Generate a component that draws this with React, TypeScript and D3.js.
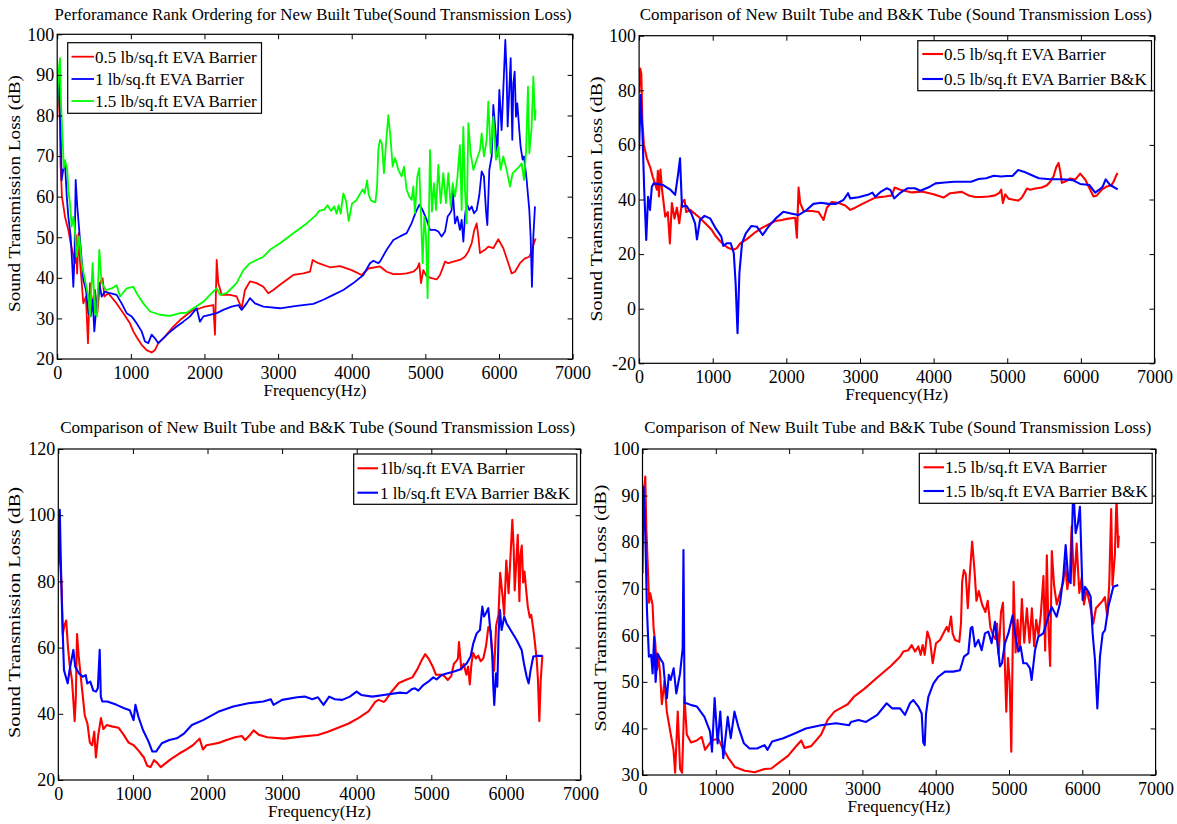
import React, { useRef, useEffect } from 'react';
import * as d3 from 'd3';

type Pt = [number, number];

// x ticks shared by all four panels
const freqTicks = [0, 1000, 2000, 3000, 4000, 5000, 6000, 7000];

// y ticks per panel
const stlTicksRank = [20, 30, 40, 50, 60, 70, 80, 90, 100];
const stlTicks05 = [-20, 0, 20, 40, 60, 80, 100];
const stlTicks10 = [20, 40, 60, 80, 100, 120];
const stlTicks15 = [30, 40, 50, 60, 70, 80, 90, 100];

// New built tube, 0.5 lb/sq.ft  [Hz, dB]
const newTube05: Pt[] = [
  [0, 79], [15, 88], [30, 86], [45, 68], [65, 60], [106, 55], [151, 51.8], [183, 48.5], [242, 43.6], [255, 50.5],
  [270, 41.1], [290, 51], [310, 44], [355, 33.7], [390, 35.4], [418, 23.9], [445, 38.7], [481, 33], [513, 37],
  [545, 31.3], [581, 38.7], [617, 39.9], [640, 35.4], [694, 36.2], [807, 33.7], [898, 31.3], [988, 28.8],
  [1034, 26.8], [1088, 25.1], [1147, 23.5], [1215, 22.2], [1283, 21.6], [1328, 22.2], [1373, 23.9], [1464, 25.5],
  [1577, 28], [1668, 29.6], [1758, 30.9], [1849, 32.1], [1939, 32.5], [2007, 32.9], [2120, 33.3], [2143, 26],
  [2166, 44.4], [2188, 38.7], [2234, 35.8], [2347, 35.8], [2437, 35.4], [2505, 32.5], [2550, 37], [2618, 39.1],
  [2709, 38.7], [2800, 37.8], [2867, 36.2], [2935, 37], [3026, 38.3], [3207, 40.7], [3343, 41.1], [3433, 41.5],
  [3470, 44.4], [3547, 43.6], [3705, 42.6], [3841, 42.9], [3999, 41.9], [4135, 40.7], [4226, 42.3], [4384, 42.8],
  [4475, 41.5], [4565, 40.9], [4656, 40.9], [4746, 41.1], [4837, 41.5], [4891, 42.4], [4918, 43.6], [4941, 38.7],
  [4973, 41.9], [5018, 40.3], [5086, 39.9], [5154, 39.6], [5199, 40.7], [5235, 42.4], [5267, 44], [5312, 43.6],
  [5380, 44], [5470, 44.4], [5538, 45.2], [5584, 46.5], [5629, 48.5], [5665, 51.8], [5697, 53.4], [5720, 50.2],
  [5742, 46.1], [5810, 46.9], [5855, 47.7], [5923, 47.3], [5991, 49.5], [6059, 47.3], [6127, 43.6], [6172, 41.1],
  [6217, 41.5], [6285, 43.6], [6353, 44.8], [6412, 45.2], [6444, 46.5], [6475, 48.5], [6498, 49.7],
];

// New built tube, 1 lb/sq.ft
const newTube10: Pt[] = [
  [0, 85], [10, 88], [20, 90], [28, 84.6], [45, 78], [60, 64], [80, 66.5], [106, 68.2], [130, 60], [151, 55.1],
  [183, 50.2], [205, 43], [219, 37.8], [235, 45], [251, 64.1], [273, 57.5], [310, 49.3], [355, 39.5], [391, 37],
  [423, 31.3], [454, 30.5], [482, 34.6], [504, 26.8], [536, 33.7], [572, 38.7], [604, 35.4], [649, 36.6],
  [717, 36.2], [807, 35.8], [875, 33.7], [943, 31.3], [1011, 30.5], [1079, 28.8], [1147, 26.8], [1192, 24.3],
  [1237, 23.9], [1283, 26], [1328, 25.1], [1373, 23.9], [1419, 24.7], [1509, 26.3], [1622, 28], [1713, 29.2],
  [1804, 30.5], [1894, 32.5], [1939, 29.2], [1985, 30.5], [2075, 30.9], [2166, 31.3], [2256, 32.1], [2369, 32.9],
  [2460, 33.3], [2505, 32.1], [2573, 33.7], [2618, 35], [2686, 33.7], [2800, 32.9], [3026, 32.5], [3252, 33.1],
  [3479, 33.6], [3615, 34.6], [3750, 35.8], [3886, 37], [4022, 38.7], [4158, 40.7], [4248, 43.6], [4294, 44.2],
  [4361, 43.6], [4384, 44], [4475, 46.9], [4565, 49.3], [4656, 50.2], [4746, 51], [4814, 53.5], [4873, 56.3],
  [4918, 58], [4963, 56.7], [5018, 54.3], [5063, 51.8], [5131, 51.8], [5176, 51.4], [5221, 50.2], [5267, 51.4],
  [5303, 55.1], [5335, 55.9], [5357, 56.7], [5371, 61.7], [5403, 53.4], [5434, 55.1], [5470, 51.8], [5493, 54.3],
  [5516, 48.9], [5538, 55.1], [5561, 58.4], [5597, 56.7], [5629, 57.6], [5661, 55.9], [5697, 56.7], [5733, 60.4],
  [5765, 66.2], [5796, 65], [5823, 56.7], [5842, 53], [5869, 66.6], [5901, 69.9], [5923, 82.6], [5959, 74.8],
  [5977, 69.9], [6005, 86.3], [6036, 76.4], [6068, 90.4], [6086, 98.6], [6104, 90.4], [6118, 77.3], [6140, 86.3],
  [6159, 94.1], [6181, 74], [6195, 87.9], [6213, 90.8], [6231, 79.7], [6249, 83], [6276, 76.4], [6294, 72.3],
  [6321, 69.1], [6340, 69.9], [6376, 64.1], [6412, 56.7], [6430, 50.2], [6448, 37.8], [6467, 50.2], [6489, 57.6],
];

// New built tube, 1.5 lb/sq.ft
const newTube15: Pt[] = [
  [0, 82.2], [15, 90], [38, 94.1], [52, 83], [74, 74], [90, 67], [106, 69], [137, 66.6], [151, 61.6], [174, 58.4],
  [196, 52.6], [220, 55], [240, 51.8], [264, 45.2], [300, 50.2], [332, 43.6], [377, 39.5], [423, 35.4], [445, 30.5],
  [481, 43.6], [513, 31.3], [540, 30.5], [572, 46.9], [604, 38.7], [663, 37], [740, 37.4], [807, 38.2], [853, 35.4],
  [943, 37.4], [1034, 37.8], [1079, 36.2], [1170, 33.7], [1260, 31.7], [1396, 30.9], [1532, 30.6], [1668, 31.3],
  [1758, 31.4], [1849, 32.5], [1985, 34.1], [2075, 35.8], [2166, 37.4], [2211, 35.8], [2301, 36.2], [2437, 38.7],
  [2528, 41.9], [2618, 43.6], [2709, 44.4], [2800, 45.2], [2890, 46.9], [3026, 48.5], [3207, 51], [3388, 53.4],
  [3513, 55.4], [3558, 56.5], [3627, 56.8], [3672, 57.9], [3718, 56.5], [3763, 57.6], [3795, 55.8], [3822, 57.9],
  [3850, 55.8], [3886, 60.8], [3922, 59], [3959, 54], [4004, 58.3], [4059, 59], [4104, 60.4], [4150, 61.8],
  [4175, 60.8], [4209, 64], [4231, 60.4], [4263, 59], [4322, 58.6], [4345, 62.6], [4361, 71.5], [4384, 74],
  [4410, 73.1], [4438, 65.8], [4466, 73.1], [4497, 80.1], [4529, 74], [4556, 67.4], [4588, 69.5], [4633, 66.6],
  [4678, 65], [4710, 67.4], [4746, 61.7], [4782, 60], [4814, 59.2], [4837, 62.5], [4859, 55.9], [4891, 65],
  [4918, 67], [4936, 57.6], [4963, 43.6], [4986, 55.1], [5009, 50.2], [5031, 35], [5063, 71.5], [5090, 56.3],
  [5117, 63.3], [5145, 56.7], [5176, 67.8], [5208, 58.4], [5244, 65.8], [5280, 58.4], [5312, 65.8], [5344, 57.6],
  [5371, 63.3], [5403, 60], [5434, 64.5], [5470, 72.7], [5493, 56.7], [5516, 77.2], [5538, 61.7], [5561, 53.4],
  [5584, 78.1], [5615, 70.7], [5652, 66.6], [5697, 69.1], [5742, 71.5], [5765, 75.6], [5796, 69.9], [5833, 74],
  [5855, 83.4], [5887, 70.7], [5923, 79.7], [5959, 69.1], [5991, 72.3], [6023, 66.6], [6059, 69.9], [6104, 66.6],
  [6150, 62.5], [6186, 65.8], [6231, 66.6], [6276, 67.4], [6308, 68.2], [6340, 64.1], [6367, 70.7], [6394, 87.1],
  [6412, 70.7], [6444, 77.2], [6467, 89.6], [6489, 78.9], [6498, 81.4],
];

// B&K tube, 0.5 lb/sq.ft
const bkTube05: Pt[] = [
  [0, 58.1], [20, 78.3], [46, 64.2], [71, 42.3], [97, 25.2], [122, 41], [148, 36.2], [173, 44.7], [199, 45.9],
  [327, 45.3], [429, 43.5], [490, 41.7], [531, 49.6], [556, 55.1], [582, 37.4], [643, 37.7], [709, 34.9],
  [760, 31.3], [786, 25.4], [827, 32.5], [888, 34], [964, 33.1], [1041, 29.4], [1117, 26.4], [1143, 23],
  [1194, 24], [1245, 24], [1286, 20.3], [1311, 9.3], [1337, -9], [1362, 13], [1398, 24], [1449, 27.6],
  [1526, 30.3], [1602, 30], [1679, 27], [1755, 30], [1857, 33.1], [1959, 35.5], [2061, 34.9], [2163, 34.3],
  [2265, 35.9], [2367, 38.4], [2469, 38.8], [2571, 38.4], [2673, 38.4], [2776, 39.8], [2837, 42.3], [2867, 40.4],
  [2980, 40.8], [3107, 41.7], [3168, 42.5], [3209, 41], [3286, 42.9], [3362, 44.1], [3413, 43.5], [3464, 40.4],
  [3541, 42.3], [3643, 44.1], [3745, 44.1], [3821, 43.2], [3949, 44.7], [4026, 45.9], [4153, 46.2], [4281, 46.5],
  [4408, 46.5], [4510, 46.5], [4612, 47.5], [4714, 47.8], [4816, 48.7], [4918, 48.4], [4995, 48.6], [5071, 48.6],
  [5148, 50.8], [5224, 50.2], [5327, 49], [5429, 47.8], [5582, 47.4], [5735, 47.4], [5888, 47.1], [5990, 45.7],
  [6117, 45.3], [6194, 42.5], [6245, 43.5], [6296, 44.7], [6337, 47.4], [6398, 45.3], [6500, 43.7],
];

// B&K tube, 1 lb/sq.ft
const bkTube10: Pt[] = [
  [0, 86], [20, 101.6], [35, 85], [50, 71.4], [76, 53.2], [101, 51.2], [126, 49.2], [151, 53.2], [177, 56.3],
  [202, 59.3], [227, 54.2], [277, 52.2], [328, 51.2], [368, 51.7], [388, 49.2], [429, 49.7], [469, 47], [504, 46.7],
  [530, 47.7], [555, 59.3], [570, 45.2], [590, 43.7], [656, 43.7], [782, 42.7], [883, 41.7], [958, 41.1],
  [1009, 38.1], [1034, 42.7], [1074, 39.1], [1135, 35.1], [1210, 31.6], [1261, 28.6], [1311, 28.6], [1387, 31.1],
  [1488, 32.1], [1589, 32.6], [1689, 34.1], [1790, 36.6], [1941, 38.1], [2143, 40.6], [2345, 42.2], [2547, 43.2],
  [2748, 43.7], [2849, 44.4], [2885, 42.7], [3000, 44.2], [3202, 45], [3303, 45.2], [3404, 44.4], [3480, 45],
  [3555, 42.7], [3631, 45.2], [3707, 44.4], [3808, 44.2], [3908, 45.2], [3999, 46.7], [4060, 45.7], [4211, 45.2],
  [4362, 45.7], [4580, 46.4], [4669, 46.2], [4736, 47.4], [4781, 47.7], [4826, 47], [4893, 48.7], [4960, 49.7],
  [5027, 51], [5071, 50.4], [5138, 51.7], [5206, 52.2], [5295, 52.7], [5384, 53.4], [5474, 55.2], [5527, 57.3],
  [5563, 61.3], [5608, 64.3], [5652, 65.3], [5684, 72.4], [5706, 69.4], [5733, 70.4], [5764, 71.9], [5795, 64.3],
  [5818, 57.3], [5831, 48.2], [5844, 42.7], [5867, 52.2], [5885, 48.2], [5902, 64.3], [5920, 71.4], [5943, 65.3],
  [5978, 69.4], [6010, 67.3], [6077, 64.8], [6144, 62.3], [6211, 59.3], [6242, 55.2], [6278, 51.2], [6305, 49.2],
  [6331, 53.2], [6367, 57.3], [6412, 57.5], [6492, 57.5],
];

// B&K tube, 1.5 lb/sq.ft
const bkTube15: Pt[] = [
  [0, 73.3], [15, 91.9], [36, 83.3], [61, 65.4], [87, 55.4], [118, 55.8], [138, 51.8], [159, 59.7], [179, 50],
  [205, 56.1], [241, 55], [282, 54], [307, 49.7], [333, 46.5], [359, 51.5], [384, 50.4], [425, 52.9], [461, 47.5],
  [512, 51.8], [548, 57.2], [559, 78.3], [574, 45.4], [600, 45.4], [666, 45], [743, 44.7], [845, 42.5], [922, 39.3],
  [948, 35], [984, 46.5], [1025, 36.8], [1061, 43.6], [1102, 33.6], [1163, 42.5], [1204, 37.9], [1255, 43.6],
  [1307, 40.4], [1383, 36.8], [1460, 35.7], [1563, 35.7], [1665, 36.4], [1706, 35.4], [1768, 37.2], [1921, 37.9],
  [2075, 38.9], [2229, 40], [2434, 40.7], [2639, 41.1], [2818, 40.7], [2844, 41.4], [2946, 41.8], [3049, 41.4],
  [3203, 42.9], [3331, 45.4], [3408, 44.3], [3513, 44.3], [3581, 42.9], [3649, 45.4], [3695, 46.1], [3763, 44.7],
  [3809, 43.2], [3830, 37], [3850, 36.4], [3868, 43.2], [3900, 46.8], [3968, 49.6], [4036, 51.1], [4127, 52.2],
  [4240, 52.2], [4331, 52.5], [4386, 55.4], [4445, 56.1], [4477, 61.5], [4500, 61.8], [4536, 57.6], [4582, 59],
  [4627, 56.8], [4672, 60.4], [4718, 60.8], [4763, 58.3], [4809, 62.9], [4841, 58.3], [4877, 53.3], [4904, 54],
  [4945, 58.3], [4991, 60.4], [5050, 64.3], [5082, 60.4], [5127, 56.5], [5159, 57.6], [5195, 54], [5241, 54],
  [5286, 52.9], [5309, 50.4], [5355, 56.8], [5400, 59.7], [5468, 60.4], [5536, 64], [5582, 66.1], [5650, 64],
  [5696, 66.9], [5741, 72.6], [5773, 79.4], [5809, 71.9], [5841, 71.2], [5877, 92], [5909, 81.9], [5940, 84],
  [5968, 87.6], [6005, 67.6], [6037, 70.4], [6082, 69.4], [6114, 68.3], [6141, 60.4], [6173, 54.7], [6205, 44.3],
  [6241, 55.4], [6278, 60.4], [6310, 61.1], [6355, 66.1], [6423, 70.4], [6491, 70.8],
];

const FONT = '"Liberation Serif", "Times New Roman", serif';
const RED = '#ff0000';
const BLUE = '#0000ff';
const GREEN = '#00ff00';

const compTitle = 'Comparison of New Built Tube and B&K Tube (Sound Transmission Loss)';

interface Series { data: Pt[]; color: string; label: string; }
interface LegendSpec { x: number; y: number; w: number; h: number; rows: number[]; lx0: number; lx1: number; tx: number; }
interface PanelSpec {
  id: string;
  left: number; right: number; top: number; bottom: number;
  yDomain: [number, number]; yTicks: number[];
  title: string; titleX: number; titleY: number; titleLen: number;
  ylabX: number; ylabY: number; ylabLen: number;
  lineWidth: number;
  legend: LegendSpec;
  series: Series[];
}

const panels: PanelSpec[] = [
  {
    id: 'p1', left: 57.2, right: 572.6, top: 34.3, bottom: 359,
    yDomain: [20, 100], yTicks: stlTicksRank,
    title: 'Perforamance Rank Ordering for New Built Tube(Sound Transmission Loss)', titleX: 54.6, titleY: 20, titleLen: 517,
    ylabX: 20, ylabY: 193.5, ylabLen: 237, lineWidth: 1.8,
    legend: { x: 67.7, y: 42.7, w: 193.8, h: 70.6, rows: [56.7, 79, 101], lx0: 71.5, lx1: 94, tx: 95 },
    series: [
      { data: newTube05, color: RED, label: '0.5 lb/sq.ft EVA Barrier' },
      { data: newTube10, color: BLUE, label: '1 lb/sq.ft EVA Barrier' },
      { data: newTube15, color: GREEN, label: '1.5 lb/sq.ft EVA Barrier' },
    ],
  },
  {
    id: 'p2', left: 639.1, right: 1154.5, top: 35.7, bottom: 363.3,
    yDomain: [-20, 100], yTicks: stlTicks05,
    title: compTitle, titleX: 639.8, titleY: 20, titleLen: 512,
    ylabX: 602, ylabY: 199, ylabLen: 245, lineWidth: 2.1,
    legend: { x: 917.8, y: 40.7, w: 233.7, h: 50, rows: [54, 79], lx0: 922.3, lx1: 943, tx: 944 },
    series: [
      { data: newTube05, color: RED, label: '0.5 lb/sq.ft EVA Barrier' },
      { data: bkTube05, color: BLUE, label: '0.5 lb/sq.ft EVA Barrier B&K' },
    ],
  },
  {
    id: 'p3', left: 58.3, right: 580.5, top: 449, bottom: 780,
    yDomain: [20, 120], yTicks: stlTicks10,
    title: compTitle, titleX: 60.2, titleY: 433, titleLen: 515,
    ylabX: 20, ylabY: 612.5, ylabLen: 251, lineWidth: 2.1,
    legend: { x: 353.7, y: 454, w: 223.1, h: 50.3, rows: [468.3, 492.7], lx0: 357.4, lx1: 378, tx: 380 },
    series: [
      { data: newTube10, color: RED, label: '1lb/sq.ft EVA Barrier' },
      { data: bkTube10, color: BLUE, label: '1 lb/sq.ft EVA Barrier B&K' },
    ],
  },
  {
    id: 'p4', left: 642.5, right: 1155.6, top: 449, bottom: 775,
    yDomain: [30, 100], yTicks: stlTicks15,
    title: compTitle, titleX: 644.3, titleY: 433, titleLen: 507,
    ylabX: 605.5, ylabY: 608, ylabLen: 247, lineWidth: 2.1,
    legend: { x: 919.3, y: 453.3, w: 232.9, h: 50, rows: [467.3, 491], lx0: 923.5, lx1: 944, tx: 945 },
    series: [
      { data: newTube15, color: RED, label: '1.5 lb/sq.ft EVA Barrier' },
      { data: bkTube15, color: BLUE, label: '1.5 lb/sq.ft EVA Barrier B&K' },
    ],
  },
];

const Panel = ({ spec }: { spec: PanelSpec }) => {
  const gRef = useRef<SVGGElement>(null);

  useEffect(() => {
    const g = d3.select(gRef.current);
    g.selectAll('*').remove();

    const x = d3.scaleLinear().domain([0, 7000]).range([spec.left, spec.right]);
    const y = d3.scaleLinear().domain(spec.yDomain).range([spec.bottom, spec.top]);
    const w = spec.right - spec.left;
    const h = spec.bottom - spec.top;

    g.append('clipPath').attr('id', `clip-${spec.id}`)
      .append('rect').attr('x', spec.left).attr('y', spec.top).attr('width', w).attr('height', h);

    // curves
    const line = d3.line<Pt>().x(d => x(d[0])).y(d => y(d[1]));
    const plot = g.append('g').attr('clip-path', `url(#clip-${spec.id})`);
    spec.series.forEach(s => {
      plot.append('path')
        .attr('d', line(s.data))
        .attr('fill', 'none')
        .attr('stroke', s.color)
        .attr('stroke-width', spec.lineWidth)
        .attr('stroke-linejoin', 'round');
    });

    // axes, matlab style: ticks pointing inward on all four sides
    const styleAxis = (sel: d3.Selection<SVGGElement, unknown, null, undefined>) => {
      sel.attr('font-family', FONT).attr('font-size', 18);
      sel.select('.domain').remove();
      sel.selectAll('line').attr('stroke', '#000');
      sel.selectAll('text').attr('fill', '#000');
    };
    g.append('g').attr('transform', `translate(0,${spec.bottom})`)
      .call(d3.axisBottom(x).tickValues(freqTicks).tickSize(-5).tickPadding(7).tickFormat(d => String(d)))
      .call(styleAxis);
    g.append('g').attr('transform', `translate(0,${spec.top})`)
      .call(d3.axisTop(x).tickValues(freqTicks).tickSize(-5).tickFormat(() => ''))
      .call(styleAxis);
    g.append('g').attr('transform', `translate(${spec.left},0)`)
      .call(d3.axisLeft(y).tickValues(spec.yTicks).tickSize(-5).tickPadding(3).tickFormat(d => String(d)))
      .call(styleAxis);
    g.append('g').attr('transform', `translate(${spec.right},0)`)
      .call(d3.axisRight(y).tickValues(spec.yTicks).tickSize(-5).tickFormat(() => ''))
      .call(styleAxis);

    g.append('rect')
      .attr('x', spec.left).attr('y', spec.top).attr('width', w).attr('height', h)
      .attr('fill', 'none').attr('stroke', '#000').attr('stroke-width', 1.2);

    // title and axis labels
    g.append('text')
      .attr('x', spec.titleX).attr('y', spec.titleY)
      .attr('textLength', spec.titleLen).attr('lengthAdjust', 'spacingAndGlyphs')
      .attr('font-family', FONT).attr('font-size', 16)
      .text(spec.title);

    g.append('text')
      .attr('x', (spec.left + spec.right) / 2).attr('y', spec.bottom + 37)
      .attr('text-anchor', 'middle')
      .attr('font-family', FONT).attr('font-size', 17)
      .text('Frequency(Hz)');

    g.append('text')
      .attr('transform', `translate(${spec.ylabX},${spec.ylabY}) rotate(-90)`)
      .attr('text-anchor', 'middle')
      .attr('textLength', spec.ylabLen).attr('lengthAdjust', 'spacingAndGlyphs')
      .attr('font-family', FONT).attr('font-size', 17)
      .text('Sound Transmission Loss (dB)');

    // legend
    const lg = spec.legend;
    const leg = g.append('g');
    leg.append('rect')
      .attr('x', lg.x).attr('y', lg.y).attr('width', lg.w).attr('height', lg.h)
      .attr('fill', '#fff').attr('stroke', '#000').attr('stroke-width', 1.2);
    spec.series.forEach((s, i) => {
      const ry = lg.rows[i];
      leg.append('line')
        .attr('x1', lg.lx0).attr('x2', lg.lx1).attr('y1', ry).attr('y2', ry)
        .attr('stroke', s.color).attr('stroke-width', spec.lineWidth);
      leg.append('text')
        .attr('x', lg.tx).attr('y', ry + 6)
        .attr('font-family', FONT).attr('font-size', 17)
        .text(s.label);
    });
  }, [spec]);

  return <g ref={gRef} />;
};

export default function App() {
  return (
    <svg
      width={1177}
      height={824}
      style={{ position: 'absolute', left: 0, top: 0, background: '#fff' }}
    >
      <rect x={0} y={0} width={1177} height={824} fill="#fff" />
      {panels.map(p => <Panel key={p.id} spec={p} />)}
    </svg>
  );
}
